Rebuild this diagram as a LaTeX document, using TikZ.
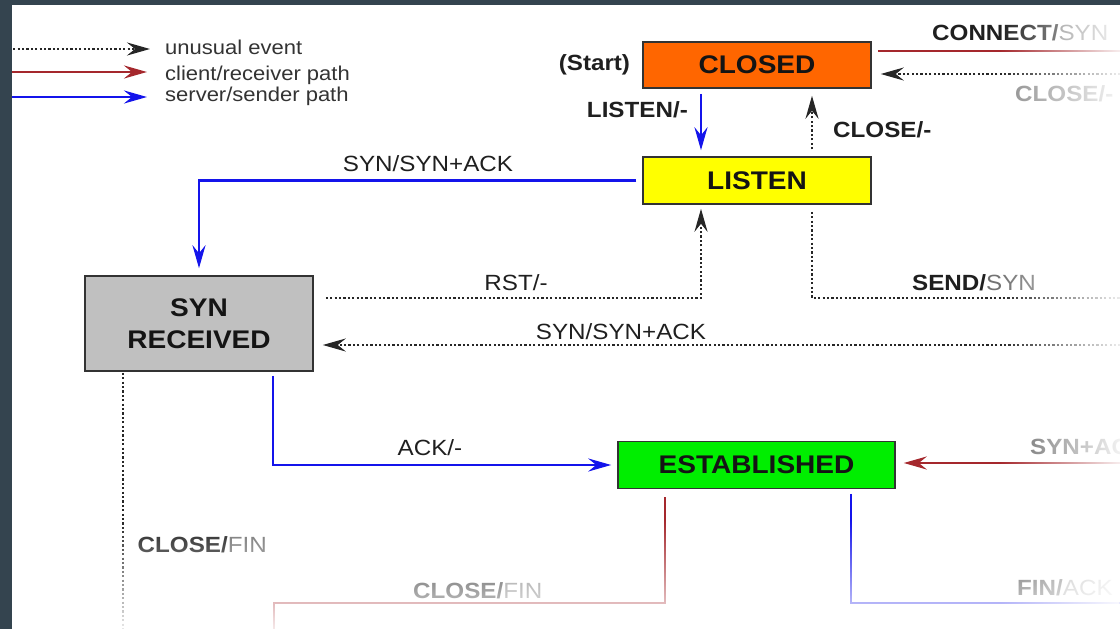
\documentclass[tikz,border=0pt]{standalone}
\usepackage{fontspec}
\setmainfont{Liberation Sans}[FakeStretch=1.1]
\usetikzlibrary{arrows.meta, positioning, fadings}

\definecolor{slate}{RGB}{52,68,79}
\definecolor{clientred}{RGB}{165,40,45}
\definecolor{serverblue}{RGB}{20,20,235}
\definecolor{closedorange}{RGB}{255,102,0}
\definecolor{listenyellow}{RGB}{255,255,0}
\definecolor{rcvdgray}{RGB}{192,192,192}
\definecolor{estgreen}{RGB}{0,238,0}

\newcommand{\evact}[2]{{\bfseries #1}{\color{black!55}#2}}

\begin{document}
\begin{tikzpicture}[x=1pt, y=-1pt,
    state/.style={draw=black!80, line width=1.5pt, inner sep=0pt, text=black!92, align=center, font=\fontsize{25.5}{32}\selectfont\bfseries},
    lbl/.style={inner sep=0pt, text=black!88, font=\fontsize{22}{26}\selectfont},
    evt/.style={lbl, font=\fontsize{22}{26}\selectfont\bfseries},
    legendtxt/.style={inner sep=0pt, anchor=base west, text=black!80, font=\fontsize{20}{24}\selectfont},
    tip/.style={-{Stealth[length=23pt, width=13pt, inset=8pt]}},
    unusual/.style={black!85, line width=2.2pt, dash pattern=on 2.2pt off 2.2pt},
    client/.style={clientred, line width=2.8pt},
    server/.style={serverblue, line width=2.8pt}]
  \useasboundingbox (0,0) rectangle (1120,629);
  \clip (0,0) rectangle (1120,629);

  % legend
  \coordinate (lu0) at (0,49);  \coordinate (lu1) at (150,49);
  \coordinate (lc0) at (0,72);  \coordinate (lc1) at (147,72);
  \coordinate (ls0) at (0,97);  \coordinate (ls1) at (147,97);
  \draw[unusual, tip] (lu0) -- (lu1);
  \draw[client, tip] (lc0) -- (lc1);
  \draw[server, tip] (ls0) -- (ls1);
  \node[legendtxt] (legunusual) at (165,54.5) {unusual event};
  \node[legendtxt] (legclient) at (165,80) {client/receiver path};
  \node[legendtxt] (legserver) at (165,101) {server/sender path};

  % states
  \node[state, fill=closedorange, minimum width=228, minimum height=46] (closed) at (757,65) {CLOSED};
  \node[state, fill=listenyellow, minimum width=228, minimum height=47] (listen) at (757,180.5) {LISTEN};
  \node[state, fill=rcvdgray, minimum width=228, minimum height=95] (synrcvd) at (199,323.5) {SYN\\RECEIVED};
  \node[state, fill=estgreen, minimum width=277, minimum height=47] (established) at (756.5,465) {ESTABLISHED};
  \node[evt, left=12pt of closed] (start) {(Start)};

  % free ends
  \coordinate (connectend) at (1125,51);
  \coordinate (closeend) at (1125,74);
  \coordinate (sendend) at (1125,298);
  \coordinate (synackin) at (1125,345);
  \coordinate (estin) at (1125,463);
  \coordinate (finend) at (1125,603);
  \coordinate (closefincorner) at (274,603);
  \coordinate (closefinend) at (274,640);
  \coordinate (rcvdend) at (123,640);

  % transitions
  \draw[server, tip, shorten <=5pt, shorten >=6pt] ([xshift=-56pt]closed.south) -- ([xshift=-56pt]listen.north);
  \draw[unusual, tip, shorten <=7pt, shorten >=7pt] ([xshift=55pt]listen.north) -- ([xshift=55pt]closed.south);
  \draw[server, tip, shorten <=6pt, shorten >=7pt] (listen.west) -| (synrcvd.north);
  \draw[unusual, tip, shorten <=12pt, shorten >=4pt] ([yshift=25.5pt]synrcvd.east) -| ([xshift=-56pt]listen.south);
  \draw[unusual, shorten <=7pt] ([xshift=55pt]listen.south) |- (sendend);
  \draw[unusual, tip, shorten >=9pt] (synackin) -- ([yshift=-21.5pt]synrcvd.east);
  \draw[server, tip, shorten <=4pt, shorten >=6pt] ([xshift=74pt]synrcvd.south) |- (established.west);
  \draw[unusual, shorten <=1pt] ([xshift=-76pt]synrcvd.south) -- (rcvdend);
  \draw[client, shorten <=8pt] ([xshift=-91.5pt]established.south) |- (closefincorner) -- (closefinend);
  \draw[server, shorten <=4.5pt] ([xshift=94.5pt]established.south) |- (finend);
  \draw[client, tip, shorten >=8pt] (estin) -- ([yshift=2pt]established.east);
  \draw[client, shorten <=6pt] ([yshift=14pt]closed.east) -- (connectend);
  \draw[unusual, tip, shorten >=9pt] (closeend) -- ([yshift=-9pt]closed.east);

  % labels
  \node[evt, anchor=east] (lbllisten) at (688,110) {LISTEN/-};
  \node[evt, anchor=west] (lblclose) at (833,130) {CLOSE/-};
  \node[lbl] (lblsynack) at (428,164) {SYN/SYN+ACK};
  \node[lbl] (lblrst) at (516,283) {RST/-};
  \node[lbl, anchor=west] (lblsend) at (912,283) {\evact{SEND/}{SYN}};
  \node[lbl] (lblsynackin) at (621,332) {SYN/SYN+ACK};
  \node[lbl] (lblack) at (430,448) {ACK/-};
  \node[lbl, anchor=west] (lblrcvdclose) at (137.5,545) {\evact{CLOSE/}{FIN}};
  \node[lbl, anchor=west] (lblestclose) at (413,591) {\evact{CLOSE/}{FIN}};
  \node[lbl, anchor=west] (lblfin) at (1017,588) {\evact{FIN/}{ACK}};
  \node[lbl, anchor=west, text=black!60] (lblsynackest) at (1030,447) {\evact{SYN+ACK/}{ACK}};
  \node[lbl, anchor=west] (lblconnect) at (932,32.5) {\evact{CONNECT/}{SYN}};
  \node[evt, anchor=west, text=black!45] (lblcloseright) at (1015,94) {CLOSE/-};

  % fade out to the right and at the bottom
  \fill[white, path fading=west, fill opacity=0.92] (1000,0) rectangle (1120,629);
  \fill[white, path fading=north, fill opacity=0.9] (0,520) rectangle (1120,629);

  % frame
  \fill[slate] (0,0) rectangle (12,629);
  \fill[slate] (0,0) rectangle (1120,4.5);
\end{tikzpicture}
\end{document}
